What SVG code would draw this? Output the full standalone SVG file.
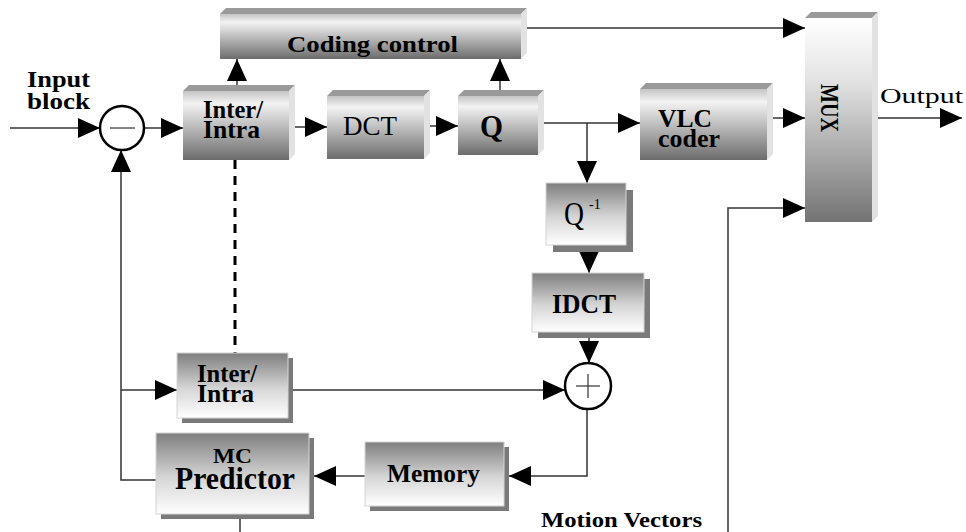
<svg xmlns="http://www.w3.org/2000/svg" width="966" height="532" viewBox="0 0 966 532">
  <defs>
    <!-- front face of raised (3D) blocks -->
    <linearGradient id="gRaised" x1="0" y1="0" x2="0" y2="1">
      <stop offset="0" stop-color="#c4c4c4"/>
      <stop offset="0.18" stop-color="#f3f3f3"/>
      <stop offset="1" stop-color="#6c6c6c"/>
    </linearGradient>
    <!-- tall multiplexer block -->
    <linearGradient id="gMux" x1="0" y1="0" x2="0" y2="1">
      <stop offset="0" stop-color="#ffffff"/>
      <stop offset="0.3" stop-color="#e4e4e4"/>
      <stop offset="1" stop-color="#737373"/>
    </linearGradient>
    <!-- front face of shadowed (flat) blocks -->
    <linearGradient id="gFlat" x1="0" y1="0" x2="0" y2="1">
      <stop offset="0" stop-color="#7e7e7e"/>
      <stop offset="0.55" stop-color="#d6d6d6"/>
      <stop offset="1" stop-color="#ffffff"/>
    </linearGradient>
    <marker id="arr" markerUnits="userSpaceOnUse" markerWidth="22" markerHeight="20" refX="22" refY="10" orient="auto">
      <path d="M0,0 L22,10 L0,20 z" fill="#000"/>
    </marker>
  </defs>
  <style>
    .top { fill: #9a9a9a; }
    .side { fill: #e2e2e2; }
    .raised { fill: url(#gRaised); }
    .mux { fill: url(#gMux); }
    .flat { fill: url(#gFlat); stroke: #d4d4d4; stroke-width: 1; }
    .shadow { fill: #7a7a7a; }
    .wire { fill: none; stroke: #333; stroke-width: 1.5; }
    .arrow { marker-end: url(#arr); }
    .dash { fill: none; stroke: #000; stroke-width: 3; stroke-dasharray: 9 7; }
    .ring { fill: #fff; stroke: #000; stroke-width: 2.5; }
    .sign { stroke: #333; stroke-width: 1.2; }
    text { font-family: "Liberation Serif", "Times New Roman", serif; fill: #000; }
    .b { font-weight: bold; }
  </style>
  <rect width="966" height="532" fill="#fff"/>

  <!-- connectors -->
  <g id="connectors">
    <path class="wire arrow" d="M10,128 L100,128"/>
    <path class="wire arrow" d="M145,128 L183,128"/>
    <path class="wire arrow" d="M294,127 L327,127"/>
    <path class="wire arrow" d="M430,126 L458,126"/>
    <path class="wire arrow" d="M544,123 L640,123"/>
    <path class="wire arrow" d="M587,123 L587,183"/>
    <path class="wire arrow" d="M237,85 L237,59"/>
    <path class="wire arrow" d="M500,90 L500,59"/>
    <path class="wire arrow" d="M527,28 L805,28"/>
    <path class="wire arrow" d="M772,118 L805,118"/>
    <path class="wire arrow" d="M878,118 L962,118"/>
    <path class="wire arrow" d="M728,532 L728,208 L805,208"/>
    <path class="wire arrow" d="M589,245 L589,273"/>
    <path class="wire arrow" d="M589,338 L589,363"/>
    <path class="dash" d="M235,160 L235,353"/>
    <path class="wire arrow" d="M156,480 L121,480 L121,150"/>
    <path class="wire arrow" d="M121,390 L177,390"/>
    <path class="wire arrow" d="M293,390 L565,390"/>
    <path class="wire arrow" d="M587,409 L587,476 L509,476"/>
    <path class="wire arrow" d="M365,476 L314,476"/>
    <path class="wire" d="M240,519 L240,532"/>
  </g>

  <!-- subtractor -->
  <g id="subtract">
    <circle class="ring" cx="122" cy="128" r="22"/>
    <line class="sign" x1="110" y1="128" x2="135" y2="128"/>
  </g>

  <!-- adder -->
  <g id="add">
    <circle class="ring" cx="588" cy="386" r="23"/>
    <line class="sign" x1="576" y1="386" x2="600" y2="386"/>
    <line class="sign" x1="588" y1="374" x2="588" y2="398"/>
  </g>

  <g id="input-label">
    <text class="b" x="27" y="87" font-size="24" textLength="63" lengthAdjust="spacingAndGlyphs">Input</text>
    <text class="b" x="27" y="109" font-size="24" textLength="63" lengthAdjust="spacingAndGlyphs">block</text>
  </g>

  <g id="coding-control">
    <polygon class="top" points="220,14 226,8 527,8 521,14"/>
    <polygon class="side" points="521,14 527,8 527,53 521,59"/>
    <rect class="raised" x="220" y="14" width="301" height="45"/>
    <text class="b" x="287" y="52" font-size="24" textLength="171" lengthAdjust="spacingAndGlyphs">Coding control</text>
  </g>

  <g id="inter-intra-top">
    <polygon class="top" points="183,91 189,85 295,85 289,91"/>
    <polygon class="side" points="289,91 295,85 295,154 289,160"/>
    <rect class="raised" x="183" y="91" width="106" height="69"/>
    <text class="b" x="203" y="118" font-size="26" textLength="60" lengthAdjust="spacingAndGlyphs">Inter/</text>
    <text class="b" x="203" y="138" font-size="26" textLength="57" lengthAdjust="spacingAndGlyphs">Intra</text>
  </g>

  <g id="dct">
    <polygon class="top" points="327,96 333,90 430,90 424,96"/>
    <polygon class="side" points="424,96 430,90 430,153 424,159"/>
    <rect class="raised" x="327" y="96" width="97" height="63"/>
    <text x="343" y="135" font-size="27" textLength="54" lengthAdjust="spacingAndGlyphs">DCT</text>
  </g>

  <g id="quant">
    <polygon class="top" points="458,96 464,90 544,90 538,96"/>
    <polygon class="side" points="538,96 544,90 544,149 538,155"/>
    <rect class="raised" x="458" y="96" width="80" height="59"/>
    <text class="b" x="480" y="137" font-size="31" textLength="23" lengthAdjust="spacingAndGlyphs">Q</text>
  </g>

  <g id="vlc">
    <polygon class="top" points="640,89 646,83 773,83 767,89"/>
    <polygon class="side" points="767,89 773,83 773,154 767,160"/>
    <rect class="raised" x="640" y="89" width="127" height="71"/>
    <text class="b" x="658" y="127" font-size="25" textLength="54" lengthAdjust="spacingAndGlyphs">VLC</text>
    <text class="b" x="658" y="147" font-size="25" textLength="62" lengthAdjust="spacingAndGlyphs">coder</text>
  </g>

  <g id="mux">
    <polygon class="top" points="805,18 811,12 878,12 872,18"/>
    <polygon class="side" points="872,18 878,12 878,216 872,222"/>
    <rect class="mux" x="805" y="18" width="67" height="204"/>
    <text class="b" font-size="25" text-anchor="middle" transform="translate(821,108) rotate(90)" textLength="48" lengthAdjust="spacingAndGlyphs">MUX</text>
  </g>

  <g id="output-label">
    <text x="880" y="103" font-size="22" textLength="83" lengthAdjust="spacingAndGlyphs">Output</text>
  </g>

  <g id="dequant">
    <rect class="shadow" x="553" y="190" width="80" height="62"/>
    <rect class="flat" x="546" y="183" width="80" height="62"/>
    <text x="564" y="225" font-size="33" textLength="20" lengthAdjust="spacingAndGlyphs">Q</text>
    <text x="589" y="209" font-size="14">-1</text>
  </g>

  <g id="idct">
    <rect class="shadow" x="538" y="279" width="112" height="59"/>
    <rect class="flat" x="532" y="273" width="112" height="59"/>
    <text class="b" x="552" y="313" font-size="28" textLength="64" lengthAdjust="spacingAndGlyphs">IDCT</text>
  </g>

  <g id="inter-intra-bottom">
    <rect class="shadow" x="182" y="358" width="111" height="65"/>
    <rect class="flat" x="177" y="353" width="111" height="65"/>
    <text class="b" x="197" y="382" font-size="26" textLength="60" lengthAdjust="spacingAndGlyphs">Inter/</text>
    <text class="b" x="197" y="402" font-size="26" textLength="57" lengthAdjust="spacingAndGlyphs">Intra</text>
  </g>

  <g id="mc-predictor">
    <rect class="shadow" x="161" y="438" width="153" height="81"/>
    <rect class="flat" x="156" y="433" width="153" height="81"/>
    <text class="b" x="213" y="463" font-size="22" textLength="39" lengthAdjust="spacingAndGlyphs">MC</text>
    <text class="b" x="175" y="489" font-size="32" textLength="120" lengthAdjust="spacingAndGlyphs">Predictor</text>
  </g>

  <g id="memory">
    <rect class="shadow" x="370" y="447" width="139" height="64"/>
    <rect class="flat" x="365" y="442" width="139" height="64"/>
    <text class="b" x="387" y="482" font-size="25" textLength="93" lengthAdjust="spacingAndGlyphs">Memory</text>
  </g>

  <g id="motion-vectors-label">
    <text class="b" x="541" y="527" font-size="22" textLength="161" lengthAdjust="spacingAndGlyphs">Motion Vectors</text>
  </g>
</svg>
